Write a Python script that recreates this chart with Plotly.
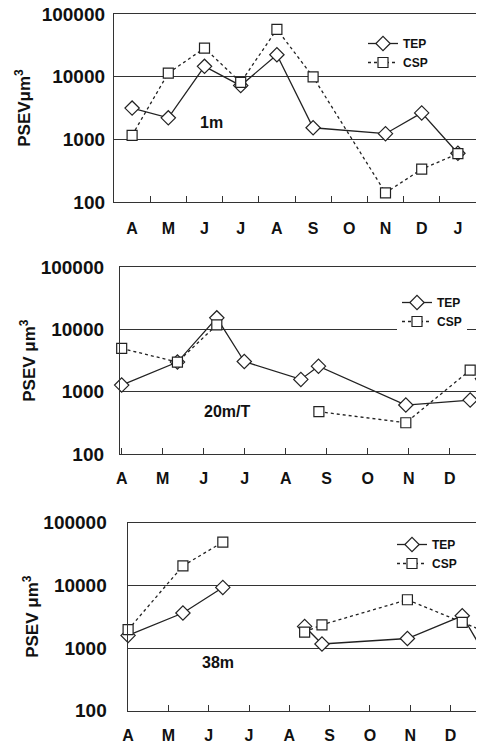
import plotly.graph_objects as go

# ---------------- data ----------------
months_p1 = ["A", "M", "J", "J", "A", "S", "O", "N", "D", "J"]
months_p23 = ["A", "M", "J", "J", "A", "S", "O", "N", "D"]
ytick_vals = [100, 1000, 10000, 100000]
ytick_text = ["100", "1000", "10000", "100000"]

# Panel 1 (1 m) - category index of month
p1_tep_x = [0, 1, 2, 3, 4, 5, 7, 8, 9]
p1_tep_y = [3150, 2200, 14600, 7200, 22400, 1530, 1230, 2640, 600]
p1_csp_x = [0, 1, 2, 3, 4, 5, 7, 8, 9]
p1_csp_y = [1160, 11400, 28500, 8100, 57000, 9900, 140, 334, 590]

# Panel 2 (20 m/T) - months since start of April
p2_tep_x = [0, 1.36, 2.32, 2.99, 4.37, 4.8, 6.93, 8.5, 9.05]
p2_tep_y = [1280, 3000, 15400, 3060, 1580, 2580, 612, 736, 590]
p2_csp_x = [0, 1.36, 2.32, None, 4.81, 6.93, 8.5, 9.1]
p2_csp_y = [4970, 3000, 11900, None, 478, 318, 2230, 520]

# Panel 3 (38 m)
p3_tep_x = [0, 1.36, 2.35, None, 4.38, 4.81, 6.93, 8.29, 9.0]
p3_tep_y = [1590, 3620, 9270, None, 2210, 1160, 1420, 3270, 550]
p3_csp_x = [0, 1.36, 2.35, None, 4.38, 4.81, 6.93, 8.29, 9.0]
p3_csp_y = [1960, 20500, 49000, None, 1800, 2350, 5890, 2560, 1670]

# ---------------- figure ----------------
# page body has an 8px default margin: figure is sized to fill the rest
OFF = 8
W, H = 484 - OFF, 746 - OFF
FONT = "Liberation Sans, Arial, sans-serif"
INK = "#222"


def fx(px):
    return (px - OFF) / W


def ydom(top_px, bot_px):
    return [1 - (bot_px - OFF) / H, 1 - (top_px - OFF) / H]


def fy(py):
    return 1 - (py - OFF) / H


fig = go.Figure()

panels = [
    (p1_tep_x, p1_tep_y, p1_csp_x, p1_csp_y, "legend"),
    (p2_tep_x, p2_tep_y, p2_csp_x, p2_csp_y, "legend2"),
    (p3_tep_x, p3_tep_y, p3_csp_x, p3_csp_y, "legend3"),
]
for i, (tx, ty, cx, cy, leg) in enumerate(panels):
    ax = "" if i == 0 else str(i + 1)
    common = dict(xaxis="x" + ax, yaxis="y" + ax, legend=leg, cliponaxis=False,
                  connectgaps=False)
    fig.add_trace(go.Scatter(
        x=tx, y=ty, name="TEP", mode="lines+markers",
        line=dict(color=INK, width=1.3),
        marker=dict(symbol="diamond", size=11, color="white",
                    line=dict(color=INK, width=1.2)),
        **common))
    fig.add_trace(go.Scatter(
        x=cx, y=cy, name="CSP", mode="lines+markers",
        line=dict(color=INK, width=1.3, dash="dot"),
        marker=dict(symbol="square", size=10, color="white",
                    line=dict(color=INK, width=1.2)),
        **common))


yaxis_common = dict(
    type="log", range=[2, 5], tickmode="array", tickvals=ytick_vals,
    ticktext=ytick_text, ticks="", showgrid=True, gridcolor="#333",
    gridwidth=1.3, showline=True, linecolor="#333", linewidth=1.3,
    tickfont=dict(family=FONT, size=19, color="#111", weight="bold"),
    zeroline=False, automargin=False, ticklabeloverflow="allow",
)
title_font = dict(family=FONT, size=17, color="#111", weight="bold")
xfont = dict(family=FONT, size=16, color="#111", weight="bold")
legfont = dict(family=FONT, size=12, color="#111", weight="bold")

layout = dict(
    template="none",
    width=W, height=H, margin=dict(l=0, r=0, t=0, b=0, autoexpand=False),
    paper_bgcolor="white", plot_bgcolor="white",
    font=dict(family=FONT, color="#111"),
    # panel 1
    xaxis=dict(domain=[fx(114), fx(476)], range=[-0.5, 9.5], tickmode="array",
               tickvals=list(range(10)), ticktext=months_p1, ticks="",
               showgrid=False, showline=True, linecolor="#333", linewidth=1.3,
               mirror=True, zeroline=False, tickfont=xfont, ticklabelstandoff=12,
               automargin=False,
               minor=dict(tickmode="array", tickvals=[k + 0.5 for k in range(9)],
                          ticks="inside", ticklen=6, tickcolor="#333",
                          tickwidth=1.2, showgrid=False),
               anchor="y"),
    yaxis=dict(domain=ydom(14, 202), anchor="x", mirror=True,
               ticklabelstandoff=4,
               title=dict(text="PSEVμm<sup>3</sup>", font=title_font, standoff=6),
               **yaxis_common),
    # panel 2
    xaxis2=dict(domain=[fx(120), 1], range=[-0.041, 8.837], tickmode="array",
                tickvals=list(range(9)), ticktext=months_p23, ticks="inside",
                ticklen=6, tickcolor="#333", tickwidth=1.2,
                showgrid=False, showline=True, linecolor="#333", linewidth=1.3,
                mirror=True, zeroline=False, tickfont=xfont, ticklabelstandoff=10,
                automargin=False, anchor="y2"),
    yaxis2=dict(domain=ydom(267.3, 454), anchor="x2", ticklabelstandoff=11,
                title=dict(text="PSEV μm<sup>3</sup>", font=title_font, standoff=0),
                **yaxis_common),
    # panel 3
    xaxis3=dict(domain=[fx(127.7), 1], range=[-0.01, 8.83], tickmode="array",
                tickvals=list(range(9)), ticktext=months_p23, ticks="inside",
                ticklen=6, tickcolor="#333", tickwidth=1.2,
                showgrid=False, showline=True, linecolor="#333", linewidth=1.3,
                mirror=True, zeroline=False, tickfont=xfont, ticklabelstandoff=10,
                automargin=False, anchor="y3"),
    yaxis3=dict(domain=ydom(522.7, 710.7), anchor="x3", ticklabelstandoff=16,
                title=dict(text="PSEV μm<sup>3</sup>", font=title_font, standoff=0),
                **yaxis_common),
    legend=dict(x=fx(363), y=fy(29), xanchor="left", yanchor="top",
                bgcolor="rgba(0,0,0,0)", font=legfont),
    legend2=dict(x=fx(397), y=fy(288), xanchor="left", yanchor="top",
                 bgcolor="white", font=legfont),
    legend3=dict(x=fx(392), y=fy(530), xanchor="left", yanchor="top",
                 bgcolor="rgba(0,0,0,0)", font=legfont),
    showlegend=True,
    annotations=[
        dict(text="1m", x=2.2, y=3.27, xref="x", yref="y", showarrow=False,
             font=dict(family=FONT, size=16, weight="bold")),
        dict(text="20m/T", x=2.57, y=2.68, xref="x2", yref="y2", showarrow=False,
             font=dict(family=FONT, size=16, weight="bold")),
        dict(text="38m", x=2.23, y=2.766, xref="x3", yref="y3", showarrow=False,
             font=dict(family=FONT, size=16, weight="bold")),
    ],
)
fig.update_layout(**layout)
fig.write_html("out.html")
